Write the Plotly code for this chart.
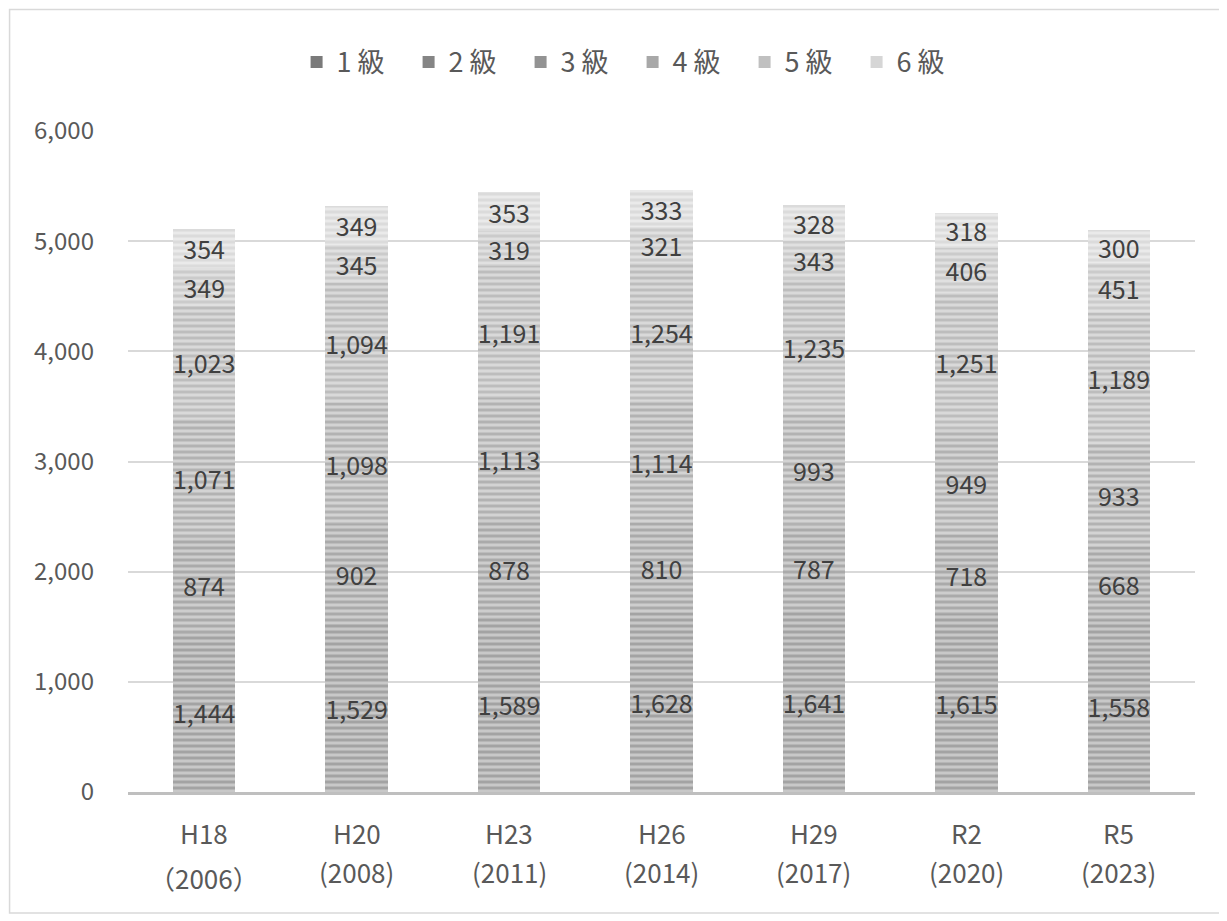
import plotly.graph_objects as go

categories = ["H18", "H20", "H23", "H26", "H29", "R2", "R5"]
years = ["（2006）", "(2008)", "(2011)", "(2014)", "(2017)", "(2020)", "(2023)"]
grades = ["1 級", "2 級", "3 級", "4 級", "5 級", "6 級"]
g1 = [1444, 1529, 1589, 1628, 1641, 1615, 1558]
g2 = [874, 902, 878, 810, 787, 718, 668]
g3 = [1071, 1098, 1113, 1114, 993, 949, 933]
g4 = [1023, 1094, 1191, 1254, 1235, 1251, 1189]
g5 = [349, 345, 319, 321, 343, 406, 451]
g6 = [354, 349, 353, 333, 328, 318, 300]
series = [g1, g2, g3, g4, g5, g6]

bg_colors = ["#c8c8c8", "#cdcdcd", "#d3d3d3", "#d9d9d9", "#e0e0e0", "#eaeaea"]
fg_colors = ["#7e7e7e", "#878787", "#929292", "#a2a2a2", "#b5b5b5", "#cbcbcb"]
legend_colors = ["#7a7a7a", "#858585", "#939393", "#a8a8a8", "#c0c0c0", "#d6d6d6"]

fig = go.Figure()
for name, vals, bg, fg in zip(grades, series, bg_colors, fg_colors):
    fig.add_trace(go.Bar(
        x=categories, y=vals, name=name, showlegend=False,
        marker=dict(color=bg, line=dict(width=0),
                    pattern=dict(shape="-", fgcolor=fg, bgcolor=bg, size=6, solidity=0.5)),
        text=[f"{v:,}" for v in vals], texttemplate="%{text}",
        textposition="inside", insidetextanchor="middle", constraintext="none",
        textangle=0,
        textfont=dict(size=25, color="#404040", family="Noto Sans CJK JP"),
        cliponaxis=False,
    ))
for name, lc in zip(grades, legend_colors):
    fig.add_trace(go.Scatter(
        x=[categories[0]], y=[None], mode="markers", name=name,
        marker=dict(symbol="square", size=12, color=lc),
    ))

fig.update_layout(
    barmode="stack", bargap=0.59,
    width=1227, height=921,
    margin=dict(l=120, r=40, t=123, b=137, autoexpand=False),
    paper_bgcolor="white", plot_bgcolor="white",
    font=dict(family="Noto Sans CJK JP", color="#595959"),
    legend=dict(orientation="h", traceorder="normal", x=0.158, xanchor="left",
                y=0.941, yref="container", yanchor="middle",
                font=dict(size=27, color="#595959"), itemwidth=30,
                entrywidth=67, entrywidthmode="pixels"),
)
fig.update_yaxes(range=[0, 6000], dtick=1000, tickformat=",", showgrid=True,
                 gridcolor="#d9d9d9", gridwidth=1.5, zeroline=False,
                 tickfont=dict(size=24, color="#595959"), ticklabelstandoff=33,
                 showline=False, automargin=False)
fig.update_xaxes(showline=True, linecolor="#bfbfbf", linewidth=3,
                 showticklabels=False, automargin=False)

for i, (c, yr) in enumerate(zip(categories, years)):
    fig.add_annotation(x=c, y=-0.062, xref="x", yref="paper", text=c, showarrow=False,
                       font=dict(size=26, color="#595959"), yanchor="middle")
    fig.add_annotation(x=c, y=-0.130 if i == 0 else -0.121, xref="x", yref="paper",
                       text=yr, showarrow=False,
                       font=dict(size=26, color="#595959"), yanchor="middle")

fig.add_shape(type="rect", xref="paper", yref="paper",
              x0=-0.111, x1=1.0234, y0=-0.183, y1=1.184,
              line=dict(color="#d9d9d9", width=1.5), layer="below")

fig.write_html("out.html")
